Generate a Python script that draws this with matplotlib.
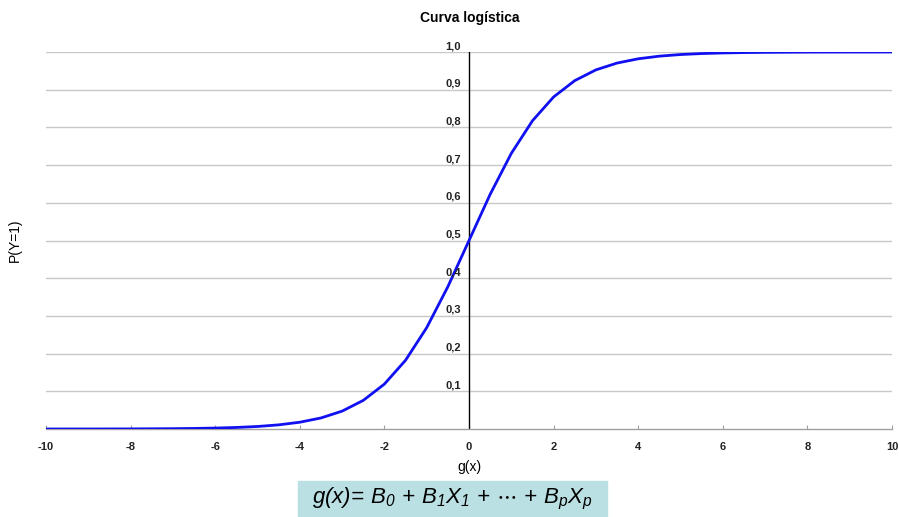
import matplotlib.pyplot as plt
import matplotlib.transforms as mtransforms

plt.rcParams["font.family"] = ["Liberation Sans", "DejaVu Sans"]
# the equation is set entirely in italic sans
plt.rcParams["mathtext.fontset"] = "custom"
plt.rcParams["mathtext.rm"] = "Liberation Sans:italic"
plt.rcParams["mathtext.it"] = "Liberation Sans:italic"

# logistic curve sampled every 0.5 on g(x)
g_values = [-10, -9.5, -9, -8.5, -8, -7.5, -7, -6.5, -6, -5.5, -5, -4.5, -4,
            -3.5, -3, -2.5, -2, -1.5, -1, -0.5, 0, 0.5, 1, 1.5, 2, 2.5, 3,
            3.5, 4, 4.5, 5, 5.5, 6, 6.5, 7, 7.5, 8, 8.5, 9, 9.5, 10]
p_values = [0.0000, 0.0001, 0.0001, 0.0002, 0.0003, 0.0006, 0.0009, 0.0015,
            0.0025, 0.0041, 0.0067, 0.0110, 0.0180, 0.0293, 0.0474, 0.0759,
            0.1192, 0.1824, 0.2689, 0.3775, 0.5000, 0.6225, 0.7311, 0.8176,
            0.8808, 0.9241, 0.9526, 0.9707, 0.9820, 0.9890, 0.9933, 0.9959,
            0.9975, 0.9985, 0.9991, 0.9994, 0.9997, 0.9998, 0.9999, 0.9999,
            1.0000]

x_ticks = [-10, -8, -6, -4, -2, 0, 2, 4, 6, 8, 10]
y_ticks = [0.1, 0.2, 0.3, 0.4, 0.5, 0.6, 0.7, 0.8, 0.9, 1.0]
y_tick_labels = ["0,1", "0,2", "0,3", "0,4", "0,5", "0,6", "0,7", "0,8", "0,9", "1,0"]

fig = plt.figure(figsize=(8.99, 5.17), dpi=100)
ax = fig.add_axes([0.0512, 0.1702, 0.9410, 0.7292])

ax.set_xlim(-10, 10)
ax.set_ylim(0, 1)

# horizontal grid
for yv in y_ticks:
    ax.axhline(yv, color="#c8c8c8", lw=1.0, zorder=1)

ax.plot(g_values, p_values, color="#1010f0", lw=2.0, zorder=3)

# y axis sits at g(x) = 0
for side in ["top", "right", "left"]:
    ax.spines[side].set_visible(False)
ax.spines["bottom"].set_color("#a0a0a0")
ax.spines["bottom"].set_linewidth(1.0)
ax.axvline(0, color="black", lw=1.0, zorder=2)

ax.set_xticks(x_ticks)
ax.set_xticklabels([str(v) for v in x_ticks])
ax.tick_params(axis="x", direction="in", length=3, color="#a0a0a0",
               labelsize=8, labelcolor="#222222", pad=9)
for lab in ax.get_xticklabels():
    lab.set_fontweight("bold")
ax.set_yticks([])

# y tick labels just left of the zero line, nudged above their gridline
offset = mtransforms.offset_copy(ax.transData, fig=fig, x=-8, y=6, units="dots")
for yv, lab in zip(y_ticks, y_tick_labels):
    ax.text(0, yv, lab, transform=offset, ha="right", va="center",
            fontsize=8, color="#222222", fontweight="bold")

ax.set_xlabel("g(x)", fontsize=10, labelpad=6)
fig.text(0.017, 0.536, "P(Y=1)", rotation=90, ha="center", va="center", fontsize=10)
fig.text(0.523, 0.966, "Curva logística", ha="center", va="center",
         fontsize=10, fontweight="bold")

# model equation in a tinted box
fig.patches.append(plt.Rectangle((298 / 899, 0), 309 / 899, 36 / 517,
                                 transform=fig.transFigure, color="#bae0e3",
                                 zorder=0))
fig.text(452 / 899, 18 / 517,
         r"$g(x)\!=\,B_0\,+\,B_1X_1\,+\,\cdots\,+\,B_pX_p$",
         ha="center", va="center", fontsize=16)

fig.savefig("out.png", dpi=100)
